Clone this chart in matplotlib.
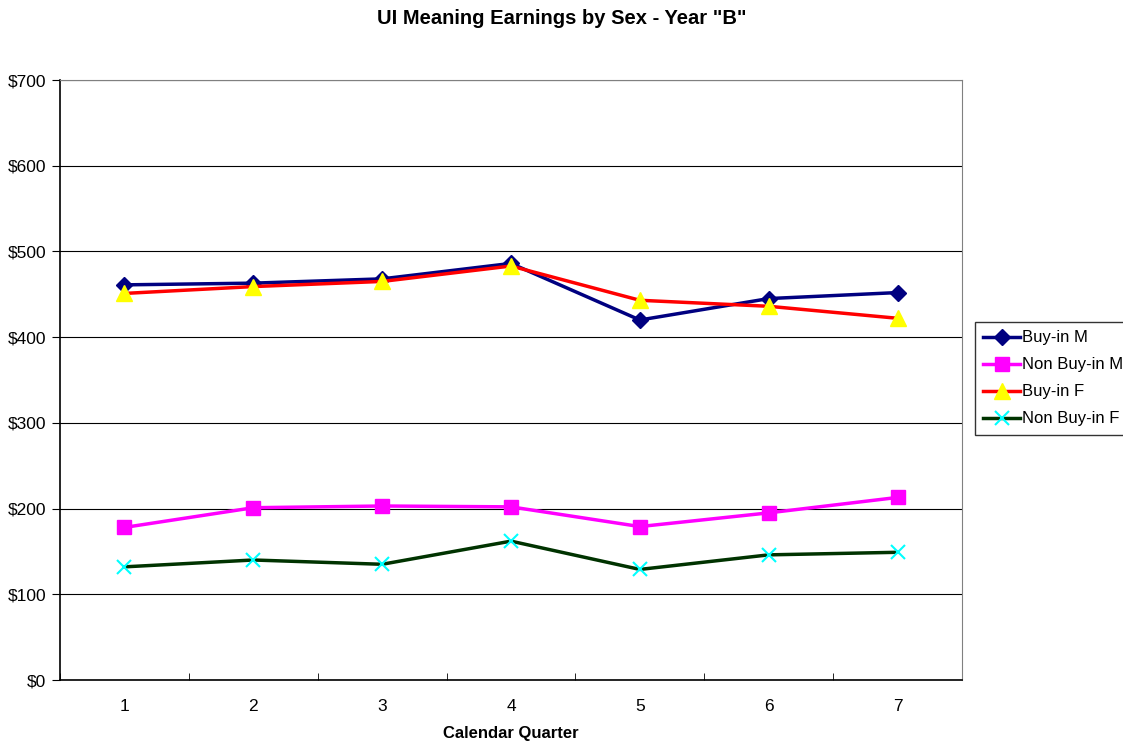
import numpy as np
import matplotlib.pyplot as plt

plt.rcParams['font.family'] = ['Liberation Sans', 'DejaVu Sans']

# Data
quarters = ['1', '2', '3', '4', '5', '6', '7']
buyin_m = [461, 463, 468, 486, 420, 445, 452]
nonbuyin_m = [178, 201, 203, 202, 179, 195, 213]
buyin_f = [451, 459, 465, 483, 443, 436, 422]
nonbuyin_f = [132, 140, 135, 162, 129, 146, 149]

x = np.arange(1, len(quarters) + 1)

fig = plt.figure(figsize=(11.23, 7.42), dpi=100)
ax = fig.add_axes([60 / 1123, 1 - 680 / 742, 902 / 1123, 600 / 742])

ax.plot(x, buyin_m, color='#000080', lw=2.5, marker='D', ms=8,
        mfc='#000080', mec='#000080', label='Buy-in M')
ax.plot(x, nonbuyin_m, color='#FF00FF', lw=2.5, marker='s', ms=10,
        mfc='#FF00FF', mec='#FF00FF', label='Non Buy-in M')
ax.plot(x, buyin_f, color='#FF0000', lw=2.5, marker='^', ms=11,
        mfc='#FFFF00', mec='#FFFF00', label='Buy-in F')
ax.plot(x, nonbuyin_f, color='#003300', lw=2.5, marker='x', ms=10, mew=1.5,
        mfc='#00FFFF', mec='#00FFFF', label='Non Buy-in F')

ax.set_xlim(0.5, 7.5)
ax.set_ylim(0, 700)
ax.set_yticks(np.arange(0, 701, 100))
ax.set_yticklabels([f'${v}' for v in range(0, 701, 100)], fontsize=12.5)
ax.set_xticks(x)
ax.set_xticklabels(quarters, fontsize=12.5)
ax.set_xticks(np.arange(0.5, 7.6, 1), minor=True)
ax.tick_params(axis='x', which='major', length=0, pad=14)
ax.tick_params(axis='x', which='minor', length=5, direction='in', color='black')
ax.tick_params(axis='y', length=6, direction='out', color='black', pad=4)
ax.yaxis.grid(True, color='black', lw=0.8)
ax.set_axisbelow(True)

for side in ['top', 'right']:
    ax.spines[side].set_color('#808080')
for side in ['left', 'bottom']:
    ax.spines[side].set_color('black')
    ax.spines[side].set_linewidth(1.2)

ax.set_xlabel('Calendar Quarter', fontsize=12, fontweight='bold', labelpad=8)
fig.suptitle('UI Meaning Earnings by Sex - Year "B"', fontsize=14.5,
             fontweight='bold', y=1 - 18 / 742, va='center')

leg = fig.legend(loc='upper left', bbox_to_anchor=(975 / 1123, 1 - 322 / 742),
                 fontsize=12, frameon=True, fancybox=False, edgecolor='black',
                 handlelength=2.2, handletextpad=0.15, borderpad=0.5,
                 labelspacing=0.72, borderaxespad=0)
leg.get_frame().set_linewidth(1.0)

fig.savefig('out.png', dpi=100)
